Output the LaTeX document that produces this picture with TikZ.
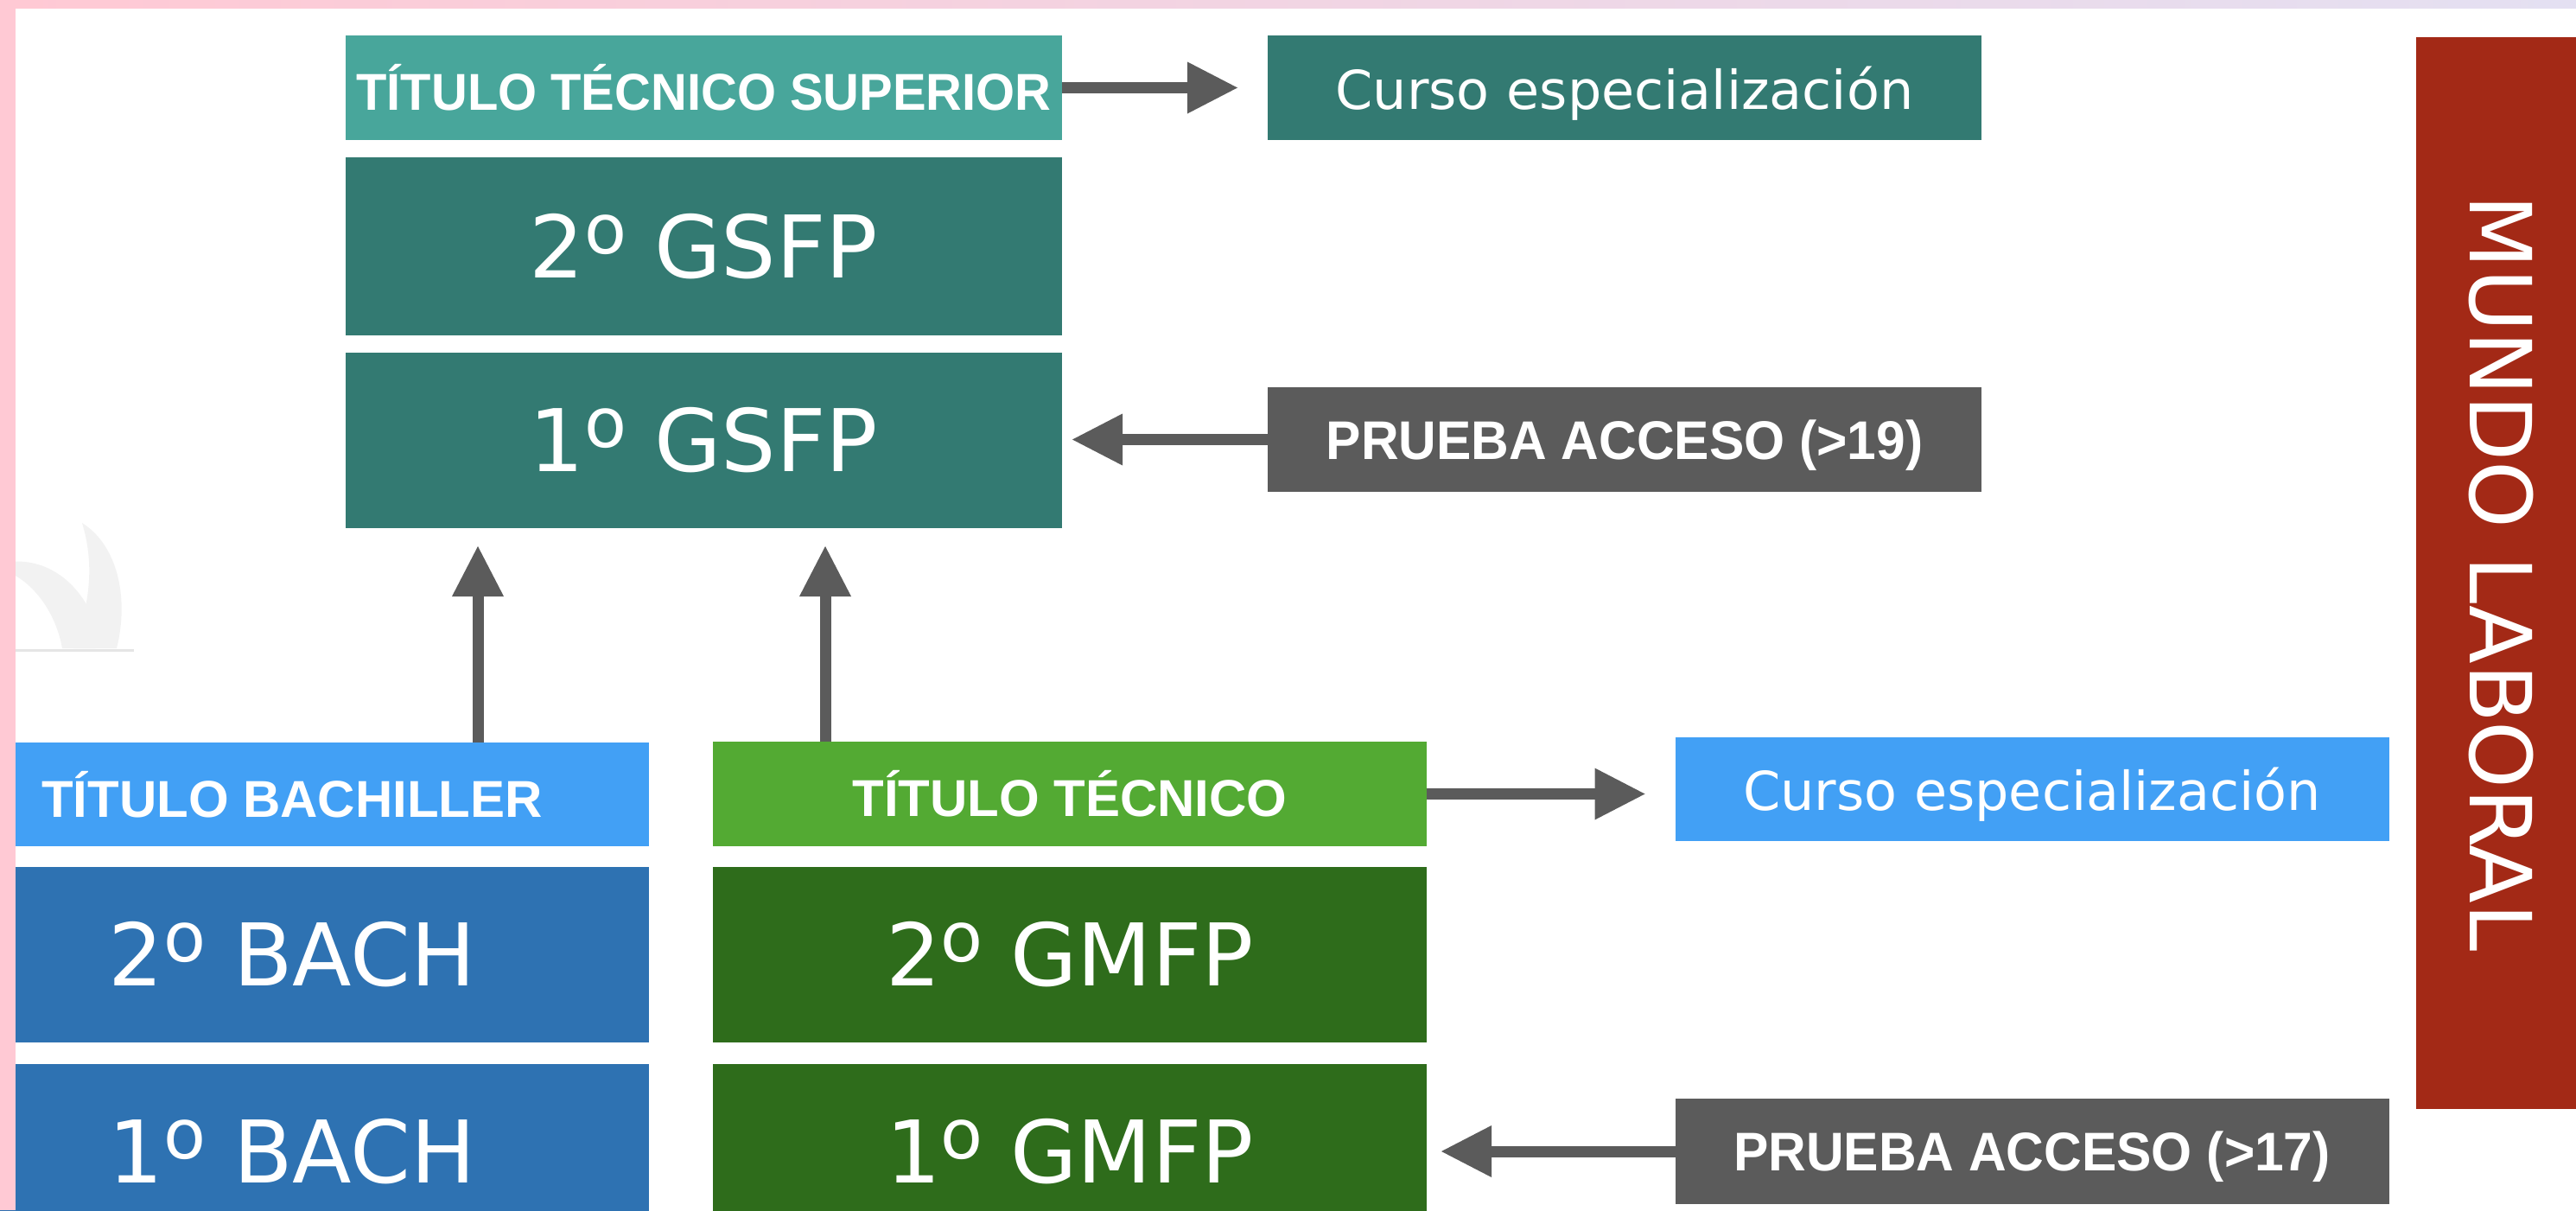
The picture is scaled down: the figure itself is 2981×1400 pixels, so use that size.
\documentclass[tikz,border=0pt]{standalone}
\usepackage{fontspec}
\usepackage{graphicx}
\setmainfont{DejaVu Sans}
\newfontfamily\hv{Liberation Sans}
\usetikzlibrary{arrows.meta}
\definecolor{tealL}{RGB}{72,166,155}
\definecolor{tealD}{RGB}{51,122,114}
\definecolor{grayB}{RGB}{91,91,91}
\definecolor{blueL}{RGB}{66,160,245}
\definecolor{blueD}{RGB}{46,114,178}
\definecolor{greenL}{RGB}{83,170,51}
\definecolor{greenD}{RGB}{46,108,27}
\definecolor{redM}{RGB}{163,41,22}
\definecolor{pinkc}{RGB}{255,201,212}
\definecolor{lavc}{RGB}{228,224,242}
\definecolor{wmark}{RGB}{242,242,242}
% raised ordinal "o" as printed in the picture
\newcommand{\ordo}{\raisebox{28pt}{\fontsize{80}{80}\selectfont o}}
\begin{document}
\begin{tikzpicture}[x=1pt,y=-1pt,
  box/.style={rectangle, inner sep=0pt, outer sep=0pt, text=white, minimum width=826pt},
  big/.style={box, minimum height=203pt, font=\fontsize{100}{100}\selectfont},
  titlebox/.style={box, minimum height=121pt, font=\hv\bfseries\fontsize{60}{60}\selectfont},
  infobox/.style={box, minimum height=121pt, text depth=0pt, font=\fontsize{62}{62}\selectfont},
  testbox/.style={box, fill=grayB, minimum height=121pt, text depth=0pt, font=\hv\bfseries\fontsize{63}{63}\selectfont},
  arr/.style={draw=grayB, line width=13pt, -{Triangle[width=60pt,length=58pt,line width=0pt]}}
]
\useasboundingbox (0,0) rectangle (2981,1400);
\clip (0,0) rectangle (2981,1400);
\fill[white] (0,0) rectangle (2981,1400);

% faint watermark
\fill[wmark] (10,650) .. controls (60,645) and (95,680) .. (110,720) -- (110,750) -- (72,750) .. controls (65,710) and (40,675) .. (10,662) -- cycle;
\fill[wmark] (95,605) .. controls (135,630) and (150,690) .. (135,750) -- (85,750) .. controls (100,710) and (112,660) .. (95,605) -- cycle;
\draw[black!10, line width=3pt] (18,752) -- (155,752);

% upper column (superior)
\node[titlebox, fill=tealL, minimum width=829pt] (tts) at (814.5,101.5) {\scalebox{0.965}[1]{TÍTULO TÉCNICO SUPERIOR}};
\node[big, fill=tealD, minimum width=829pt, minimum height=206pt] (gs2) at (814.5,285) {2\ordo\ GSFP};
\node[big, fill=tealD, minimum width=829pt] (gs1) at (814.5,509.5) {1\ordo\ GSFP};
\node[infobox, fill=tealD] (ce1) at (1880,101.5) {Curso especialización};
\node[testbox] (pa19) at (1880,508.5) {\scalebox{0.96}[1]{PRUEBA ACCESO (>19)}};

% bachillerato column
\node[titlebox, fill=blueL, minimum height=120pt] (tb) at (338,919) {TÍTULO BACHILLER};
\node[big, fill=blueD] (b2) at (338,1104.5) {2\ordo\ BACH};
\node[big, fill=blueD] (b1) at (338,1332.5) {1\ordo\ BACH};

% grado medio column
\node[titlebox, fill=greenL] (tt) at (1238,918.5) {TÍTULO TÉCNICO};
\node[big, fill=greenD] (m2) at (1238,1104.5) {2\ordo\ GMFP};
\node[big, fill=greenD] (m1) at (1238,1332.5) {1\ordo\ GMFP};
\node[infobox, fill=blueL, minimum height=120pt] (ce2) at (2351.5,913) {Curso especialización};
\node[testbox, minimum height=122pt] (pa17) at (2351.5,1332) {\scalebox{0.96}[1]{PRUEBA ACCESO (>17)}};

% mundo laboral
\node[rectangle, inner sep=0pt, fill=redM, text=white, rotate=-90, minimum width=1240pt, minimum height=196pt, font=\fontsize{99}{99}\selectfont] (ml) at (2894,663) {MUNDO LABORAL};

% connectors
\draw[arr, shorten >=35pt] (tts.east) -- (tts.east -| ce1.west);
\draw[arr, shorten >=12pt] (pa19.west) -- (pa19.west -| gs1.east);
\draw[arr, shorten >=21pt] ([xshift=215pt]tb.north) -- ([xshift=215pt]tb.north |- gs1.south);
\draw[arr, shorten >=21pt] ([xshift=-283pt]tt.north) -- ([xshift=-283pt]tt.north |- gs1.south);
\draw[arr, shorten >=35pt] (tt.east) -- (tt.east -| ce2.west);
\draw[arr, shorten >=17pt] (pa17.west) -- (pa17.west -| m1.east);

% page border bands
\shade[left color=pinkc, right color=lavc] (0,0) rectangle (2981,9);
\fill[pinkc] (0,0) rectangle (18,1400);
\end{tikzpicture}
\end{document}
